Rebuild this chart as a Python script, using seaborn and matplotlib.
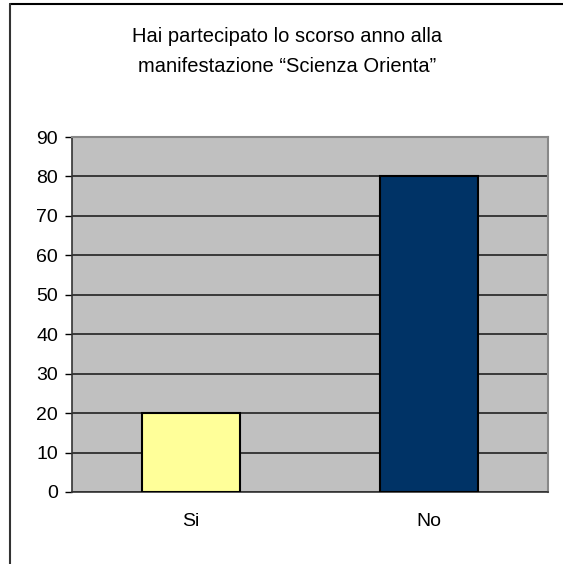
import matplotlib
matplotlib.use("Agg")
import matplotlib.pyplot as plt
import seaborn as sns
import pandas as pd
from matplotlib.lines import Line2D

categories = ["Si", "No"]
values = [20, 80]
bar_colors = ["#FFFF99", "#003366"]
yticks = [0, 10, 20, 30, 40, 50, 60, 70, 80, 90]
title_lines = ["Hai partecipato lo scorso anno alla", "manifestazione \u201cScienza Orienta\u201d"]

sns.set_theme(style="white")
plt.rcParams['font.family'] = ['Liberation Sans', 'DejaVu Sans']

df = pd.DataFrame({"cat": categories, "val": values})

fig = plt.figure(figsize=(5.63, 5.64), dpi=100)
ax = fig.add_axes([72/563, 1-492/564, 476/563, 355/564])
ax.set_facecolor("#C0C0C0")

sns.barplot(data=df, x="cat", y="val", hue="cat", palette=bar_colors,
            order=categories, hue_order=categories, legend=False, saturation=1,
            width=0.41, edgecolor="black", linewidth=1.5, ax=ax, zorder=3)

ax.set_ylim(0, 90)
ax.set_xlim(-0.5, 1.5)
ax.set_yticks(yticks)
ax.yaxis.grid(True, color="#222222", linewidth=1.2, zorder=1)
ax.set_axisbelow(True)
ax.set_xlabel("")
ax.set_ylabel("")

# x ticks: labels at centers, tick marks at boundaries
ax.set_xticks([0, 1])
ax.set_xticklabels(categories)
ax.tick_params(axis="x", length=0, pad=15, labelsize=14, colors="black")
ax.set_xticks([0.5, 1.5], minor=True)
ax.tick_params(axis="x", which="minor", length=6, width=1, color="#333333", direction="out")
ax.tick_params(axis="y", length=5, width=1, color="#333333", direction="out",
               labelsize=14, pad=5, left=True, colors="black")
ax.tick_params(axis="y", colors="black")

for s in ["left", "bottom"]:
    ax.spines[s].set_color("#333333")
    ax.spines[s].set_linewidth(1.2)
for s in ["top", "right"]:
    ax.spines[s].set_color("#888888")
    ax.spines[s].set_linewidth(1.5)
    ax.spines[s].set_visible(True)

# title
fig.text(287/563, 1-37/564, title_lines[0], ha="center", va="center", fontsize=14.5, color="black")
fig.text(287/563, 1-67/564, title_lines[1], ha="center", va="center", fontsize=14.5, color="black")

# outer chart frame
fig.add_artist(Line2D([10/563, 1.0], [1-3.5/564, 1-3.5/564], transform=fig.transFigure, color="black", linewidth=1.5))
fig.add_artist(Line2D([10/563, 10/563], [0, 1-3.5/564], transform=fig.transFigure, color="#333333", linewidth=1.5))

fig.savefig("out.png", dpi=100)
